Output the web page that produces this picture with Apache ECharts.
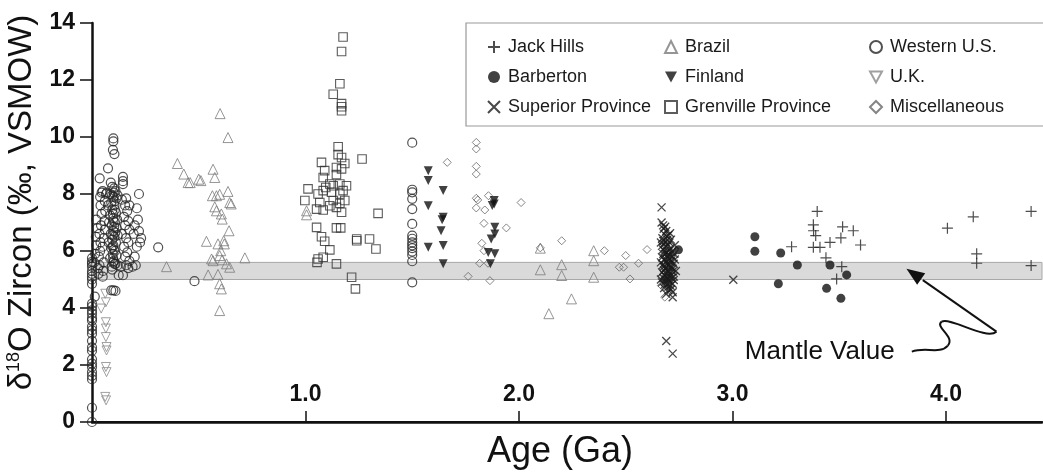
<!DOCTYPE html>
<html>
<head>
<meta charset="utf-8">
<script src="https://cdn.jsdelivr.net/npm/echarts@6/dist/echarts.min.js"></script>
<style>
html,body{margin:0;padding:0;background:#fff;}
#chart{width:1043px;height:474px;}
</style>
</head>
<body>
<div id="chart"></div>
<script>
// ---------- DATA ([age Ga, d18O permil]) ----------
const jackHills = [[3.397,7.39],[3.379,6.92],[3.38,6.71],[3.39,6.54],[3.516,6.85],[3.566,6.71],[3.277,6.15],[3.379,6.13],[3.41,6.13],[3.457,6.30],[3.508,6.46],[3.6,6.21],[3.438,5.76],[3.512,5.45],[3.488,5.02],[4.007,6.8],[4.128,7.2],[4.144,5.9],[4.144,5.57],[4.399,7.39],[4.399,5.49]];
const barberton = [[2.747,6.04],[3.105,6.5],[3.105,5.99],[3.226,5.93],[3.304,5.51],[3.215,4.85],[3.457,5.51],[3.441,4.69],[3.535,5.16],[3.508,4.34]];
const superior = [[2.668,7.53],[2.668,7.0],[2.675,6.9],[2.685,6.85],[2.69,6.7],[2.68,6.6],[2.7,6.55],[2.672,6.45],[2.695,6.4],[2.705,6.3],[2.68,6.25],[2.69,6.15],[2.71,6.1],[2.675,6.05],[2.7,6.0],[2.715,5.95],[2.685,5.9],[2.695,5.85],[2.72,5.8],[2.67,5.78],[2.705,5.72],[2.68,5.68],[2.69,5.62],[2.71,5.6],[2.725,5.55],[2.675,5.52],[2.7,5.48],[2.715,5.42],[2.685,5.38],[2.695,5.32],[2.72,5.28],[2.67,5.25],[2.705,5.2],[2.68,5.15],[2.69,5.1],[2.715,5.05],[2.7,5.0],[2.725,4.98],[2.685,4.92],[2.695,4.85],[2.71,4.78],[2.68,4.7],[2.7,4.62],[2.72,4.55],[2.69,4.5],[2.72,4.38],[2.69,2.84],[2.72,2.4],[3.004,4.99],[2.73,6.2],[2.73,5.7],[2.735,5.3],[2.665,6.3],[2.665,5.6],[2.665,5.0],
[2.678,6.78],[2.692,6.52],[2.708,6.62],[2.676,6.35],[2.688,6.32],[2.712,6.4],[2.67,6.18],[2.698,6.22],[2.718,6.0],[2.682,6.0],[2.692,5.95],[2.706,5.86],[2.676,5.9],[2.7,5.76],[2.728,5.9],[2.686,5.72],[2.712,5.66],[2.696,5.55],[2.678,5.45],[2.71,5.48],[2.72,5.38],[2.69,5.42],[2.7,5.28],[2.68,5.32],[2.712,5.15],[2.69,5.2],[2.726,5.1],[2.676,5.05],[2.7,5.1],[2.708,4.9],[2.688,5.0],[2.72,4.85],[2.7,4.75],[2.682,4.82],[2.712,4.65],[2.67,4.9]];
const brazil = [[0.349,5.45],[0.40,9.07],[0.43,8.7],[0.45,8.4],[0.46,8.4],[0.50,8.52],[0.51,8.47],[0.567,8.87],[0.575,8.58],[0.60,10.82],[0.637,9.98],[0.564,7.94],[0.583,7.94],[0.598,7.99],[0.637,8.09],[0.645,7.7],[0.652,7.65],[0.575,7.55],[0.583,7.41],[0.606,7.3],[0.61,7.12],[0.642,6.71],[0.536,6.34],[0.59,6.25],[0.617,6.36],[0.62,6.25],[0.603,6.01],[0.598,5.84],[0.61,5.69],[0.56,5.72],[0.567,5.66],[0.63,5.55],[0.645,5.43],[0.544,5.16],[0.59,5.18],[0.598,4.85],[0.606,4.67],[0.598,3.91],[0.716,5.76],[1.005,7.41],[1.005,7.27],[2.10,5.34],[2.10,6.1],[2.2,5.52],[2.2,5.14],[2.246,4.32],[2.14,3.80],[2.35,6.01],[2.35,5.66],[2.35,5.08]];
const finland = [[1.575,8.82],[1.575,8.47],[1.645,8.12],[1.575,7.59],[1.645,7.18],[1.64,7.1],[1.635,6.71],[1.575,6.13],[1.645,6.19],[1.645,5.55],[1.884,7.77],[1.884,7.65],[1.875,7.6],[1.887,6.83],[1.887,6.6],[1.87,6.42],[1.856,5.95],[1.887,5.9],[1.866,5.55]];
const grenville = [[1.176,13.51],[1.169,13.0],[1.161,11.87],[1.13,11.5],[1.169,11.17],[1.169,11.06],[1.169,10.92],[1.153,9.66],[1.153,9.38],[1.169,9.28],[1.265,9.23],[1.184,9.07],[1.075,9.11],[1.09,8.82],[1.145,8.93],[1.145,8.68],[1.169,8.88],[1.083,8.58],[1.114,8.35],[1.13,8.29],[1.161,8.35],[1.192,8.29],[1.012,8.18],[1.059,8.0],[1.083,8.12],[1.095,8.23],[1.122,8.06],[1.161,8.0],[1.176,8.12],[0.997,7.77],[1.067,7.7],[1.13,7.77],[1.161,7.67],[1.184,7.77],[1.145,7.53],[1.052,7.47],[1.083,7.44],[1.114,7.59],[1.169,7.36],[1.34,7.32],[1.052,6.83],[1.075,6.5],[1.145,6.81],[1.165,6.81],[1.24,6.42],[1.24,6.36],[1.30,6.42],[1.33,6.07],[1.114,6.04],[1.09,6.34],[1.059,5.72],[1.054,5.6],[1.083,5.78],[1.145,5.55],[1.216,5.08],[1.234,4.67]];
const westernUS = [[0,0],[0,0.5],[0,1.5],[0,1.62],[0,1.75],[0,1.93],[0,2.05],[0,2.2],[0,2.5],[0,2.62],[0,2.85],[0,3.1],[0,3.22],[0,3.35],[0,3.56],[0,3.65],[0,3.8],[0,3.92],[0,4.05],[0,4.15],[0,4.85],[0,5.0],[0,5.1],[0,5.2],[0,5.3],[0,5.45],[0,5.55],[0,5.62],[0,5.75],[0.013,4.4],
[0.01,5.6],[0.015,5.9],[0.02,6.2],[0.018,6.5],[0.025,6.8],[0.02,7.1],[0.03,5.2],[0.028,5.4],[0.035,5.5],[0.032,5.8],[0.038,6.0],[0.04,6.3],[0.035,6.6],[0.042,6.9],[0.045,7.3],[0.04,7.6],[0.038,7.9],[0.045,8.05],[0.05,8.1],[0.036,8.55],[0.05,5.1],[0.052,5.3],[0.055,5.6],[0.05,6.15],[0.055,6.45],[0.06,6.75],[0.058,7.05],[0.062,7.4],[0.06,7.75],[0.065,8.0],[0.07,8.05],
[0.1,9.95],[0.1,9.85],[0.098,9.55],[0.105,9.4],[0.075,8.9],[0.088,8.4],[0.095,8.25],[0.11,8.1],[0.085,8.0],[0.1,7.9],[0.115,7.85],[0.09,7.7],[0.105,7.6],[0.095,7.45],[0.112,7.35],[0.085,7.25],[0.1,7.15],[0.108,7.0],[0.092,6.9],[0.115,6.8],[0.1,6.7],[0.088,6.6],[0.105,6.5],[0.095,6.4],[0.112,6.3],[0.1,6.2],[0.09,6.1],[0.108,6.0],[0.097,5.9],[0.115,5.85],[0.085,5.75],[0.102,5.65],[0.11,5.55],[0.093,5.45],[0.12,5.5],[0.125,5.15],[0.09,4.62],[0.1,4.62],[0.11,4.6],[0.095,5.35],[0.118,7.1],[0.12,6.55],[0.078,6.3],[0.08,7.0],[0.075,7.6],[0.12,7.95],
[0.102,8.05],[0.106,7.75],[0.098,7.3],[0.104,6.85],[0.096,6.55],[0.103,6.05],[0.099,5.75],[0.107,7.45],[0.101,7.05],[0.097,6.15],[0.106,5.55],[0.104,8.2],[0.094,7.95],[0.109,6.65],[0.1,5.6],
[0.145,8.6],[0.145,8.45],[0.145,8.35],[0.16,7.85],[0.155,7.6],[0.165,7.4],[0.15,7.2],[0.17,7.05],[0.155,6.9],[0.175,6.75],[0.14,6.6],[0.16,6.45],[0.17,6.3],[0.15,6.15],[0.165,5.95],[0.155,5.8],[0.175,5.65],[0.16,5.5],[0.17,5.4],[0.135,5.45],[0.145,5.15],[0.175,7.6],[0.14,7.8],
[0.22,8.0],[0.21,7.5],[0.215,7.1],[0.22,6.7],[0.23,6.45],[0.225,6.3],[0.21,6.15],[0.2,5.8],[0.205,5.5],[0.19,5.45],[0.2,6.9],[0.195,6.6],
[0.31,6.13],[0.48,4.94],
[1.5,9.8],[1.5,8.15],[1.5,8.06],[1.5,7.83],[1.5,7.47],[1.5,6.95],[1.5,6.54],[1.5,6.43],[1.5,6.3],[1.5,6.2],[1.5,6.1],[1.5,5.98],[1.5,5.86],[1.5,5.64],[1.5,4.9]];
const uk = [[0.065,3.5],[0.065,3.28],[0.065,2.98],[0.068,2.63],[0.068,2.51],[0.065,1.93],[0.068,1.75],[0.062,0.88],[0.066,0.76],[0.043,3.98],[0.065,4.2],[0.062,4.5]];
const misc = [[1.664,9.11],[1.80,9.81],[1.80,9.58],[1.80,8.97],[1.80,8.7],[1.80,7.85],[1.807,7.79],[1.857,7.94],[2.01,7.7],[1.80,7.51],[1.84,7.44],[1.836,6.97],[1.941,6.81],[1.826,6.27],[1.836,6.01],[1.816,5.57],[1.855,5.57],[1.762,5.11],[1.864,4.96],[2.10,6.11],[2.2,6.36],[2.40,6.01],[2.50,5.84],[2.47,5.43],[2.49,5.43],[2.56,5.57],[2.52,5.02],[2.60,6.05],[2.667,4.79],[2.683,4.38]];
const mantleBand = [5.0, 5.6];
const xTicks = [1, 2, 3, 4];
const legendCols = [['Jack Hills','Barberton','Superior Province'],['Brazil','Finland','Grenville Province'],['Western U.S.','U.K.','Miscellaneous']];
const annotation = {text:'Mantle Value', textAt:[3.058, 2.47], tip:[3.815, 5.38]};

// ---------- CHART ----------
const FONT = '"Liberation Sans", Arial, Helvetica, sans-serif';
const chart = echarts.init(document.getElementById('chart'), null, {renderer:'canvas'});
const hollow = (c, w) => ({color:'rgba(0,0,0,0)', borderColor:c, borderWidth:w});
function sc(name, data, symbol, size, itemStyle, z) {
  return {name, type:'scatter', data, symbol, symbolSize:size,
    itemStyle, z:z||3, animation:false, emphasis:{disabled:true}, silent:true};
}
const PLUS = 'path://M5,0L5,10M0,5L10,5';
const CROSS = 'path://M0,0L10,10M10,0L0,10';
const DOWN = 'path://M0,0L10,0L5,9Z';
const series = [
  sc('Western U.S.', westernUS, 'circle', 9, hollow('#262626',1.2)),
  sc('Brazil', brazil, 'triangle', 10, hollow('#7a7a7a',1)),
  sc('U.K.', uk, DOWN, 9, hollow('#888',1)),
  sc('Grenville Province', grenville, 'rect', 8.5, hollow('#333',1.1)),
  sc('Miscellaneous', misc, 'diamond', 8, hollow('#666',1)),
  sc('Finland', finland, DOWN, 9, {color:'#111'}),
  sc('Barberton', barberton, 'circle', 9, {color:'#111'}),
  sc('Jack Hills', jackHills, PLUS, 11, {color:'rgba(0,0,0,0)', borderColor:'#222', borderWidth:1.2}),
  sc('Superior Province', superior, CROSS, 8, {color:'rgba(0,0,0,0)', borderColor:'#1a1a1a', borderWidth:1.3}),
];
series[0].markArea = {silent:true, itemStyle:{color:'#dadada', borderColor:'#a8a8a8', borderWidth:1},
  data:[[{yAxis:mantleBand[0]},{yAxis:mantleBand[1]}]]};

const legendLefts = [482, 659, 864];
const legends = legendCols.map((d,i) => ({
  data:d, orient:'vertical', left:legendLefts[i], top:33, itemGap:12, itemWidth:12, itemHeight:12,
  selectedMode:false, textStyle:{fontFamily:FONT, fontSize:18, color:'#1a1a1a', padding:[0,0,0,3]}, z:10
}));

chart.setOption({
  animation:false,
  backgroundColor:'#fff',
  grid:{left:92, top:23, width:950, height:399, containLabel:false, outerBoundsMode:'none'},
  legend: legends,
  xAxis:[{
    type:'value', min:0, max:4.45, interval:1,
    name:'Age (Ga)', nameLocation:'middle', nameGap:12,
    nameTextStyle:{fontFamily:FONT, fontSize:36, color:'#111', verticalAlign:'top', padding:[0,14,0,0]},
    axisLine:{onZero:false, lineStyle:{color:'#111', width:2.5}},
    axisTick:{inside:true, length:11, lineStyle:{color:'#111', width:1.5}, customValues:xTicks},
    axisLabel:{inside:true, margin:16, fontFamily:FONT, fontWeight:'bold', fontSize:23, color:'#111',
      customValues:xTicks, formatter:v => (xTicks.includes(v) ? v.toFixed(1) : '')},
    splitLine:{show:false}
  },{
    type:'value', position:'top', min:0, max:4.45,
    axisLine:{show:true, lineStyle:{color:'#111', width:2}}, axisTick:{show:false}, axisLabel:{show:false}, splitLine:{show:false}
  }],
  yAxis:{
    type:'value', min:0, max:14, interval:2,
    name:'{a|δ}{s|18}{a|O Zircon (‰, VSMOW)}', nameLocation:'middle', nameGap:40,
    nameTextStyle:{fontFamily:FONT, fontSize:33, color:'#111', padding:[0,0,0,40],
      rich:{a:{fontFamily:FONT, fontSize:33, color:'#111'}, s:{fontFamily:FONT, fontSize:18, color:'#111', verticalAlign:'top', padding:[0,0,13,0]}}},
    axisLine:{show:true, onZero:false, lineStyle:{color:'#111', width:2.5}},
    axisTick:{show:true, length:12, lineStyle:{color:'#111', width:1.5}},
    axisLabel:{margin:17, fontFamily:FONT, fontWeight:'bold', fontSize:23, color:'#111'},
    splitLine:{show:false}
  },
  series
});

// annotation (anchored to data coordinates)
const tp = chart.convertToPixel({gridIndex:0}, annotation.textAt);
const tip = chart.convertToPixel({gridIndex:0}, annotation.tip);
const tx = tp[0], ty = tp[1];
const sx = tx + 167, sy = ty;
const tail = [tip[0] + 90, tip[1] + 63];
const dx = tail[0]-tip[0], dy = tail[1]-tip[1], L = Math.hypot(dx,dy), ux = dx/L, uy = dy/L;
const bx = tip[0] + 20*ux, by = tip[1] + 20*uy;
const stroke = {stroke:'#111', lineWidth:2, fill:null};
function bz(x1,y1,c1x,c1y,c2x,c2y,x2,y2){
  return {type:'bezierCurve', z:20, silent:true, shape:{x1,y1,cpx1:c1x,cpy1:c1y,cpx2:c2x,cpy2:c2y,x2,y2}, style:stroke};
}
chart.setOption({graphic:[
  {type:'rect', x:466, y:23, z:5, silent:true, shape:{x:0, y:0, width:620, height:103}, style:{fill:'#fff', stroke:'#9a9a9a', lineWidth:1.2}},
  {type:'text', x:tx, y:ty, z:20, silent:true, style:{text:annotation.text, font:'26px ' + FONT, fill:'#111', align:'left', verticalAlign:'middle'}},
  bz(sx,sy, sx+14,sy-5, sx+28,sy+3, sx+36,sy-6),
  bz(sx+36,sy-6, sx+44,sy-15, sx+22,sy-25, sx+30,sy-30),
  bz(sx+30,sy-30, sx+38,sy-35, tail[0]-10,tail[1]+9, tail[0],tail[1]),
  {type:'line', z:20, silent:true, shape:{x1:tail[0], y1:tail[1], x2:bx, y2:by}, style:stroke},
  {type:'polygon', z:21, silent:true, shape:{points:[[tip[0],tip[1]],[bx+7*uy-2*ux, by-7*ux-2*uy],[bx-7*uy-2*ux, by+7*ux-2*uy]]}, style:{fill:'#111'}}
]});
</script>
</body>
</html>
